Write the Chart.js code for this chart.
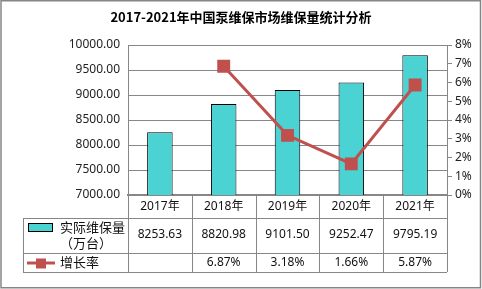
<!DOCTYPE html>
<html>
<head>
<meta charset="utf-8">
<script src="https://cdn.jsdelivr.net/npm/chart.js@4"></script>
<style>
  body { margin: 0; background: #fff; }
  canvas { display: block; }
</style>
</head>
<body>
<canvas id="myChart" width="482" height="289"></canvas>
<script>
// Data
const years = ["2017年", "2018年", "2019年", "2020年", "2021年"];
const volume = [8253.63, 8820.98, 9101.5, 9252.47, 9795.19];
const growth = [null, 6.87, 3.18, 1.66, 5.87];
const volumeLabel = ["实际维保量", "（万台）"];
const growthLabel = "增长率";

const FONT = "'Noto Sans', 'Noto Sans CJK SC', sans-serif";
const GRID = "#878787";
const TEAL = "#4bd2d3";
const RED = "#c0504d";

// data table under the plot + outer frame
const tablePlugin = {
	id: "dataTable",
	afterDraw(chart) {
		const ctx = chart.ctx;
		const a = chart.chartArea;
		const x = chart.scales.x;
		const half = (x.getPixelForValue(1) - x.getPixelForValue(0)) / 2;
		const top = a.bottom;
		const r1 = top + 23, r2 = top + 58, r3 = top + 77;
		const left = 23;

		ctx.save();
		ctx.strokeStyle = GRID;
		ctx.lineWidth = 1;
		ctx.beginPath();
		// horizontal lines
		[r1, r2, r3].forEach((y) => {
			ctx.moveTo(left, Math.round(y) + 0.5);
			ctx.lineTo(a.right, Math.round(y) + 0.5);
		});
		// vertical lines
		ctx.moveTo(left + 0.5, r1);
		ctx.lineTo(left + 0.5, r3);
		for (let i = 0; i <= years.length; i++) {
			const px = Math.round(x.getPixelForValue(0) - half + i * half * 2) + 0.5;
			ctx.moveTo(px, top);
			ctx.lineTo(px, r3);
		}
		ctx.stroke();

		// cell text
		ctx.fillStyle = "#111";
		ctx.textAlign = "center";
		ctx.textBaseline = "middle";
		ctx.font = "12px " + FONT;
		years.forEach((label, i) => {
			const cx = x.getPixelForValue(i);
			ctx.fillText(label, cx, top + 12);
			ctx.fillText(volume[i].toFixed(2), cx, top + 40);
			if (growth[i] != null) ctx.fillText(growth[i].toFixed(2) + "%", cx, top + 68);
		});

		// legend keys
		ctx.fillStyle = TEAL;
		ctx.fillRect(28, top + 28, 24, 8);
		ctx.strokeStyle = "#000";
		ctx.strokeRect(28.5, top + 28.5, 24, 8);
		ctx.strokeStyle = RED;
		ctx.lineWidth = 3;
		ctx.beginPath();
		ctx.moveTo(27, top + 68);
		ctx.lineTo(55, top + 68);
		ctx.stroke();
		ctx.fillStyle = RED;
		ctx.fillRect(36, top + 63.5, 10, 10);

		ctx.fillStyle = "#111";
		ctx.textAlign = "left";
		ctx.font = "13px 'Noto Sans CJK SC', sans-serif";
		ctx.fillText(volumeLabel[0], 60, top + 32);
		ctx.fillText(volumeLabel[1], 60, top + 48);
		ctx.fillText(growthLabel, 60, top + 67);

		// outer frame
		ctx.strokeStyle = "#868686";
		ctx.lineWidth = 1.5;
		ctx.strokeRect(1, 0.75, 479.5, 287);
		ctx.restore();
	},
};

var ctx = document.getElementById("myChart").getContext("2d");
var myChart = new Chart(ctx, {
	data: {
		labels: years,
		datasets: [
			{
				type: "line",
				label: growthLabel,
				data: growth,
				yAxisID: "y1",
				borderColor: RED,
				backgroundColor: RED,
				borderWidth: 3,
				pointStyle: "rect",
				pointRadius: 7,
				pointHoverRadius: 7,
				order: 0,
			},
			{
				type: "bar",
				label: volumeLabel.join(""),
				data: volume,
				yAxisID: "y",
				backgroundColor: TEAL,
				borderColor: "#000",
				borderWidth: 1,
				barPercentage: 0.4,
				categoryPercentage: 1,
				order: 1,
			},
		],
	},
	options: {
		responsive: false,
		animation: false,
		layout: {
			padding: { left: 0, right: 0, top: 0, bottom: 94 },
		},
		plugins: {
			legend: { display: false },
			tooltip: { enabled: false },
			title: {
				display: true,
				text: "2017-2021年中国泵维保市场维保量统计分析",
				color: "#000",
				font: { family: "'Noto Sans CJK SC', sans-serif", size: 13, weight: "bold" },
				padding: { top: 9, bottom: 20.4 },
			},
		},
		scales: {
			x: {
				offset: true,
				ticks: { display: false },
				grid: { display: false },
				border: { color: GRID, width: 2 },
				afterFit: (s) => { s.height = 0; },
			},
			y: {
				position: "left",
				min: 7000,
				max: 10000,
				ticks: {
					stepSize: 500,
					padding: 8,
					color: "#222",
					font: { family: FONT, size: 12 },
					callback: (v) => v.toFixed(2),
				},
				grid: { color: GRID, drawTicks: false },
				border: { color: GRID },
				afterFit: (s) => { s.width = 128; },
			},
			y1: {
				position: "right",
				min: 0,
				max: 8,
				ticks: {
					stepSize: 1,
					padding: 3,
					color: "#222",
					font: { family: FONT, size: 12 },
					callback: (v) => v + "%",
				},
				grid: { drawOnChartArea: false, color: GRID, tickLength: 5 },
				border: { color: GRID },
				afterFit: (s) => { s.width = 35; },
			},
		},
	},
	plugins: [tablePlugin],
});
</script>
</body>
</html>
